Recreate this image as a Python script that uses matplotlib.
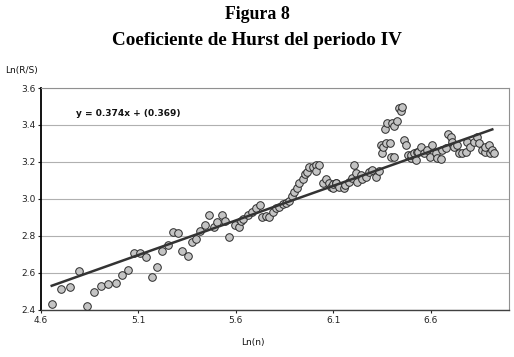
import numpy as np
import matplotlib
matplotlib.use("Agg")
import matplotlib.pyplot as plt

# Ln(n) and Ln(R/S) values
ln_n = [4.658, 4.702, 4.750, 4.793, 4.834, 4.871, 4.910, 4.946, 4.984, 5.016,
        5.048, 5.077, 5.110, 5.137, 5.169, 5.197, 5.222, 5.253, 5.277, 5.304,
        5.325, 5.352, 5.372, 5.396, 5.417, 5.440, 5.461, 5.485, 5.505, 5.526,
        5.543, 5.563, 5.597, 5.618, 5.627, 5.638, 5.660, 5.683, 5.703, 5.724,
        5.734, 5.754, 5.771, 5.788, 5.806, 5.822, 5.839, 5.857, 5.874, 5.887,
        5.899, 5.911, 5.925, 5.942, 5.955, 5.967, 5.976, 5.996, 6.010, 6.013,
        6.027, 6.044, 6.064, 6.078, 6.087, 6.096, 6.099, 6.113, 6.113, 6.130,
        6.155, 6.160, 6.180, 6.197, 6.206, 6.215, 6.223, 6.240, 6.249, 6.266,
        6.283, 6.300, 6.317, 6.334, 6.343, 6.351, 6.356, 6.365, 6.368, 6.377,
        6.390, 6.394, 6.399, 6.411, 6.411, 6.425, 6.436, 6.445, 6.450, 6.462,
        6.470, 6.484, 6.496, 6.496, 6.513, 6.522, 6.530, 6.535, 6.547, 6.564,
        6.581, 6.598, 6.607, 6.624, 6.632, 6.650, 6.658, 6.675, 6.689, 6.701,
        6.709, 6.718, 6.735, 6.743, 6.760, 6.778, 6.786, 6.803, 6.820, 6.837,
        6.846, 6.863, 6.880, 6.880, 6.897, 6.905, 6.914, 6.923]
ln_rs = [2.432, 2.515, 2.524, 2.611, 2.420, 2.499, 2.531, 2.540, 2.548, 2.588,
         2.615, 2.706, 2.706, 2.688, 2.578, 2.634, 2.720, 2.753, 2.822, 2.815,
         2.717, 2.694, 2.768, 2.784, 2.827, 2.859, 2.915, 2.850, 2.874, 2.913,
         2.883, 2.795, 2.859, 2.847, 2.880, 2.894, 2.913, 2.931, 2.949, 2.968,
         2.901, 2.908, 2.901, 2.931, 2.950, 2.958, 2.973, 2.980, 2.991, 3.016,
         3.039, 3.058, 3.085, 3.106, 3.133, 3.147, 3.171, 3.175, 3.184, 3.153,
         3.182, 3.088, 3.106, 3.088, 3.066, 3.058, 3.079, 3.088, 3.085, 3.066,
         3.058, 3.075, 3.094, 3.112, 3.184, 3.139, 3.094, 3.130, 3.106, 3.121,
         3.148, 3.157, 3.117, 3.153, 3.292, 3.250, 3.283, 3.377, 3.300, 3.409,
         3.300, 3.225, 3.409, 3.395, 3.229, 3.423, 3.490, 3.477, 3.496, 3.319,
         3.292, 3.238, 3.220, 3.238, 3.247, 3.211, 3.256, 3.256, 3.283, 3.247,
         3.265, 3.229, 3.292, 3.247, 3.220, 3.215, 3.265, 3.274, 3.351, 3.337,
         3.310, 3.283, 3.292, 3.247, 3.247, 3.256, 3.310, 3.283, 3.310, 3.337,
         3.300, 3.265, 3.256, 3.283, 3.292, 3.247, 3.265, 3.247]

# trend line as drawn in the figure
slope = 0.374
intercept = 0.790
line_x = [4.655, 6.915]

xticks = [4.6, 5.1, 5.6, 6.1, 6.6]
yticks = [2.4, 2.6, 2.8, 3.0, 3.2, 3.4, 3.6]

fig = plt.figure(figsize=(5.14, 3.57), dpi=100)
ax = fig.add_axes([0.0798, 0.1317, 0.9102, 0.6218])

ax.set_xlim(4.6, 7.0)
ax.set_ylim(2.4, 3.6)
ax.set_xticks(xticks)
ax.set_yticks(yticks)
ax.set_xticklabels([f"{v:.1f}" for v in xticks])
ax.set_yticklabels([f"{v:.1f}" for v in yticks])
ax.tick_params(labelsize=6.5, length=2, colors="#222222", pad=2)

ax.grid(axis="y", color="#b0b0b0", linewidth=0.8)
ax.set_axisbelow(True)
for side in ["top", "right"]:
    ax.spines[side].set_color("#909090")
    ax.spines[side].set_linewidth(0.8)
ax.spines["left"].set_color("black")
ax.spines["left"].set_linewidth(1.3)
ax.spines["bottom"].set_color("#404040")
ax.spines["bottom"].set_linewidth(1.0)

ax.scatter(ln_n, ln_rs, s=30, facecolor="#c4c4c4", edgecolor="#2a2a2a",
           linewidth=0.7, zorder=3)
lx = np.array(line_x)
ax.plot(lx, slope * lx + intercept, color="#333333", linewidth=1.8, zorder=4)

ax.text(0.075, 0.875, "y = 0.374x + (0.369)", transform=ax.transAxes,
        fontsize=6.5, fontweight="bold", color="#111111")

fig.text(0.5, 0.958, "Figura 8", ha="center", va="center",
         family="Liberation Serif", fontweight="bold", fontsize=12.8)
fig.text(0.5, 0.887, "Coeficiente de Hurst del periodo IV", ha="center",
         va="center", family="Liberation Serif", fontweight="bold", fontsize=13.8)
fig.text(0.01, 0.803, "Ln(R/S)", fontsize=6.5, va="center", color="#111111")
fig.text(0.492, 0.042, "Ln(n)", fontsize=6.5, ha="center", va="center",
         color="#111111")

fig.savefig("out.png", dpi=100)
